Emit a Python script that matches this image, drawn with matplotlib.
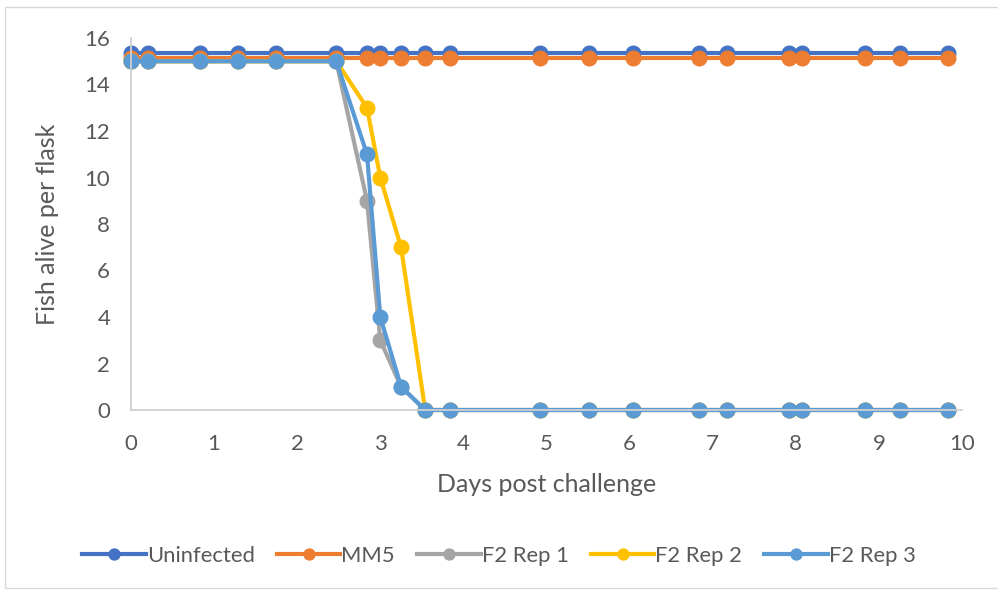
#!/usr/bin/env python3
"""
plot.py

Fish survival per flask after challenge (Excel-style line chart).
"""
import matplotlib
matplotlib.use("Agg")
import matplotlib.pyplot as plt
from matplotlib.patches import Rectangle

# days post challenge (shared by all series)
days = [0, 0.2, 0.83, 1.29, 1.75, 2.47, 2.84, 3.0, 3.25, 3.54, 3.84,
        4.92, 5.51, 6.04, 6.84, 7.17, 7.92, 8.07, 8.83, 9.25, 9.83]

# fish alive per flask (controls offset slightly so the lines stay visible)
uninfected = [15.35] * 21
mm5 = [15.15] * 21
f2_rep1 = [15, 15, 15, 15, 15, 15, 9, 3, 1, 0, 0] + [0] * 10
f2_rep2 = [15, 15, 15, 15, 15, 15, 13, 10, 7, 0, 0] + [0] * 10
f2_rep3 = [15, 15, 15, 15, 15, 15, 11, 4, 1, 0, 0] + [0] * 10

series_names = ["Uninfected", "MM5", "F2 Rep 1", "F2 Rep 2", "F2 Rep 3"]
series_colors = ["#4472C4", "#ED7D31", "#A5A5A5", "#FFC000", "#5B9BD5"]

plt.rcParams['font.family'] = ['Lato', 'DejaVu Sans']
text_col = "#595959"

W, H = 998, 591
fig = plt.figure(figsize=(W / 100, H / 100), dpi=100)

# light chart-area border
fig.patches.append(Rectangle((5 / W, 1 - 588 / H), 1.2, (588 - 7) / H,
                             transform=fig.transFigure, fill=False,
                             edgecolor="#D9D9D9", lw=1))

ax = fig.add_axes([131 / W, 1 - 410 / H, (962 - 131) / W, (410 - 38) / H])

all_series = [uninfected, mm5, f2_rep1, f2_rep2, f2_rep3]
for vals, name, col in zip(all_series, series_names, series_colors):
    ax.plot(days, vals, color=col, lw=3, marker='o', markersize=10.5,
            label=name, clip_on=False)

ax.set_xlim(0, 10)
ax.set_ylim(0, 16)
ax.set_xticks(range(0, 11))
ax.set_yticks(range(0, 17, 2))
ax.tick_params(length=0, labelsize=16, colors=text_col)
ax.tick_params(axis='y', pad=15)
ax.tick_params(axis='x', pad=17)
for side in ['top', 'right']:
    ax.spines[side].set_visible(False)
for side in ['left', 'bottom']:
    ax.spines[side].set_color("#D0D0D0")
    ax.spines[side].set_linewidth(1.3)

ax.set_xlabel("Days post challenge", fontsize=18, color=text_col, labelpad=14)
ax.set_ylabel("Fish alive per flask", fontsize=18, color=text_col, labelpad=18)

fig.legend(loc='center', bbox_to_anchor=(0.5, 1 - 556 / H), ncol=5,
           frameon=False, fontsize=15.8, labelcolor=text_col,
           handlelength=2.9, handletextpad=0.05, columnspacing=1.0,
           markerscale=0.75)

fig.savefig("out.png", dpi=100)
